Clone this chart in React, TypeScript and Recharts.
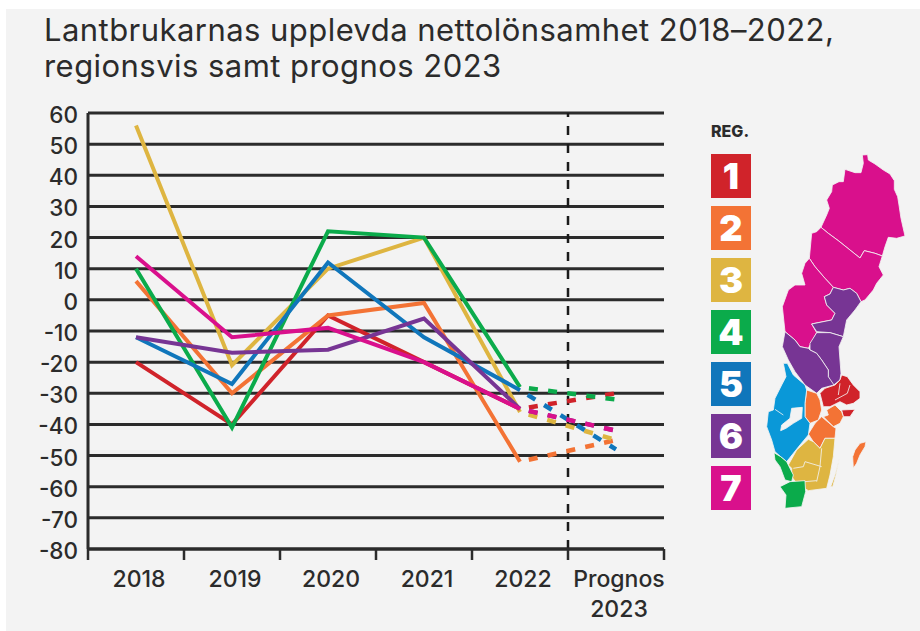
import React from "react";
import { LineChart, Line, XAxis, YAxis, CartesianGrid, ReferenceLine } from "recharts";

const categories = ["2018", "2019", "2020", "2021", "2022", "Prognos 2023"];
const region1 = [-20, -40, -5, -20, -35, -30];
const region2 = [6, -30, -5, -1, -52, -45];
const region3 = [56, -21, 10, 20, -36, -45];
const region4 = [10, -41, 22, 20, -28, -32];
const region5 = [-12, -27, 12, -12, -29, -48];
const region6 = [-12, -17, -16, -6, -35, -42];
const region7 = [14, -12, -9, -20, -35, -42];
const yTicks = [60, 50, 40, 30, 20, 10, 0, -10, -20, -30, -40, -50, -60, -70, -80];

const regionNames = ["1", "2", "3", "4", "5", "6", "7"];
const regionValues = [region1, region2, region3, region4, region5, region6, region7];
const regionColors = ["#d0232a", "#f37335", "#deb541", "#0bab4b", "#1076bb", "#773594", "#d9108c"];

const table = categories.map((label, i) => {
  const row: Record<string, string | number | null> = { label };
  regionNames.forEach((r, k) => {
    row["s" + r] = i <= 4 ? regionValues[k][i] : null;
    row["p" + r] = i >= 4 ? regionValues[k][i] : null;
  });
  return row;
});

const FONT = "Inter, 'Open Sans', sans-serif";
const INK = "#2b2b2b";
const BG = "#f3f3f3";
const MAGENTA = "#d9108c";
const PURPLE = "#773594";
const RED = "#d0232a";
const ORANGE = "#f37335";
const YELLOW = "#deb541";
const GREEN = "#0bab4b";
const SKY = "#0a98d8";

const mapNorth: { fill: string; pts: string }[] = [
  { fill: MAGENTA, pts: "262,15 278,14 280,30 300,42 325,60 345,72 358,92 358,118 368,140 372,165 378,205 390,258 365,265 340,262 330,290 322,318 300,310 268,302 255,324 225,300 190,272 160,250 138,232 155,195 163,175 155,150 170,125 172,105 192,95 205,95 210,58 240,68 258,68 265,40" },
  { fill: MAGENTA, pts: "138,232 160,250 190,272 225,300 255,324 268,302 300,310 322,318 312,350 325,375 305,400 295,420 270,450 258,455 245,430 225,415 205,420 175,412 150,385 120,350 103,325 110,250 125,245" },
  { fill: MAGENTA, pts: "103,325 120,350 150,385 175,412 165,432 148,440 155,465 180,490 170,510 110,522 125,548 100,595 75,590 60,570 30,545 22,470 40,420 60,405 90,405 80,370 90,340" },
  { fill: PURPLE, pts: "175,412 205,420 225,415 245,430 258,455 240,480 215,510 205,560 165,548 125,545 110,522 170,510 180,490 155,465 148,440 165,432" },
  { fill: PURPLE, pts: "125,548 165,548 205,560 192,590 195,630 198,670 195,690 170,710 160,680 160,660 140,630 125,610 105,600 105,580" },
  { fill: PURPLE, pts: "30,545 60,570 75,590 100,595 105,600 125,610 140,630 160,660 160,680 177,705 140,715 125,730 90,705 60,665 40,630 22,590" },
];

const mapSouth: { fill: string; pts: string }[] = [
  { fill: RED, pts: "245,45 262,50 280,75 300,95 300,115 280,130 260,135 240,125 210,140 190,140 180,100 195,85 225,75 240,60" },
  { fill: RED, pts: "245,150 285,148 270,170 250,170" },
  { fill: ORANGE, pts: "140,90 170,100 180,120 185,150 175,180 150,190 135,170 135,130" },
  { fill: ORANGE, pts: "200,150 225,135 245,155 250,170 240,190 220,200 190,170 205,165" },
  { fill: ORANGE, pts: "185,170 220,200 228,205 225,235 195,235 180,265 160,245 145,222 165,190" },
  { fill: ORANGE, pts: "318,245 300,250 285,270 278,290 280,325 290,310 300,285 315,260" },
  { fill: SKY, pts: "70,10 82,10 100,45 135,75 140,90 135,130 135,170 150,190 145,225 120,255 100,280 80,305 62,290 45,275 35,240 20,200 25,155 40,150 45,115 65,75 78,50" },
  { fill: BG, pts: "95,145 127,142 125,175 100,190 78,205 62,212 65,195 90,175" },
  { fill: YELLOW, pts: "145,238 160,245 180,265 195,235 225,235 220,290 210,345 200,385 145,392 110,370 95,350 95,325 85,315 110,270" },
  { fill: YELLOW, pts: "238,295 225,345 212,380 218,380 228,345" },
  { fill: GREEN, pts: "42,278 62,290 80,305 100,345 95,365 75,360 60,320 45,300" },
  { fill: GREEN, pts: "60,380 90,365 135,362 137,395 125,440 75,445 78,405" },
];

const mapSouthLines = [
  "185,265 180,320 170,365",
  "100,325 130,320 135,305 185,320",
  "135,365 170,362",
  "225,120 262,100 270,75",
  "240,70 235,105",
  "45,148 70,165",
];

const CategoryTick = (props: any) => {
  const { x, y, payload, width, visibleTicksCount, index } = props;
  const half = width / visibleTicksCount / 2;
  const words = String(payload.value).split(" ");
  const isLast = index === visibleTicksCount - 1;
  return (
    <g>
      <line x1={x - half} x2={x - half} y1={y} y2={y + 11} stroke={INK} strokeWidth={2.5} />
      {isLast && <line x1={x + half} x2={x + half} y1={y} y2={y + 11} stroke={INK} strokeWidth={2.5} />}
      <text x={x + 3} y={y + 38} textAnchor="middle" fontFamily={FONT} fontSize={23} fontWeight={500} fill={INK}>
        {words.map((w: string, i: number) => (
          <tspan key={w} x={x + 3} dy={i === 0 ? 0 : 30}>{w}</tspan>
        ))}
      </text>
    </g>
  );
};

export default function App() {
  return (
    <div style={{ position: "absolute", left: 0, top: 0, width: 920, height: 631, background: "#fff", overflow: "hidden" }}>
      <div style={{ position: "absolute", left: 6, top: 9, width: 914, height: 622, background: BG }} />
      <div style={{ position: "absolute", left: 44, top: 12, fontFamily: FONT, fontSize: 31, letterSpacing: 0.45, lineHeight: "36px", color: INK, whiteSpace: "nowrap" }}>
        Lantbrukarnas upplevda nettolönsamhet 2018–2022,<br />regionsvis samt prognos 2023
      </div>
      <div style={{ position: "absolute", left: 0, top: 0 }}>
        <LineChart width={920} height={631} data={table} margin={{ top: 113, right: 256, bottom: 0, left: 0 }}>
          <CartesianGrid vertical={false} stroke={INK} strokeWidth={3} syncWithTicks />
          <XAxis dataKey="label" type="category" scale="band" height={82} tickSize={0} tickMargin={0} interval={0} tick={CategoryTick}
            axisLine={{ stroke: INK, strokeWidth: 3 }} tickLine={false} />
          <YAxis type="number" domain={[-80, 60]} ticks={yTicks} interval={0} width={88} tickSize={0} tickMargin={10}
            axisLine={{ stroke: INK, strokeWidth: 3 }} tick={{ fontFamily: FONT, fontSize: 22.5, fontWeight: 500, fill: INK, dy: 2 }} />
          <ReferenceLine x="2022" position="end" stroke="#1a1a1a" strokeWidth={2.5} strokeDasharray="9 9" />
          {regionNames.map((r, k) => (
            <Line key={"s" + r} dataKey={"s" + r} stroke={regionColors[k]} strokeWidth={4} dot={false} activeDot={false} connectNulls={false} isAnimationActive={false} />
          ))}
          {regionNames.map((r, k) => (
            <Line key={"p" + r} dataKey={"p" + r} stroke={regionColors[k]} strokeWidth={4.5} strokeDasharray="9 10.3" strokeDashoffset={10.3} dot={false} activeDot={false} connectNulls={false} isAnimationActive={false} />
          ))}
        </LineChart>
      </div>
      <div style={{ position: "absolute", left: 711, top: 122, fontFamily: FONT, fontSize: 16, fontWeight: 800, color: INK, lineHeight: "18px" }}>REG.</div>
      {regionNames.map((r, k) => (
        <div key={r} style={{ position: "absolute", left: 711, top: 154 + 52 * k, width: 40, height: 44, background: regionColors[k], color: "#fff", fontFamily: FONT, fontWeight: 900, fontSize: 36, lineHeight: "44px", textAlign: "center" }}>{r}</div>
      ))}
      <svg width={920} height={631} style={{ position: "absolute", left: 0, top: 0 }}>
        <g transform="translate(775 150) scale(0.3333)">
          {mapNorth.map((m, i) => (
            <polygon key={i} points={m.pts} fill={m.fill} stroke={BG} strokeWidth={2.5} strokeLinejoin="round" />
          ))}
        </g>
        <g transform="translate(760 360) scale(0.3333)">
          {mapSouth.map((m, i) => (
            <polygon key={i} points={m.pts} fill={m.fill} stroke={BG} strokeWidth={2.5} strokeLinejoin="round" />
          ))}
          {mapSouthLines.map((p, i) => (
            <polyline key={i} points={p} fill="none" stroke={BG} strokeWidth={2.5} />
          ))}
        </g>
      </svg>
    </div>
  );
}
